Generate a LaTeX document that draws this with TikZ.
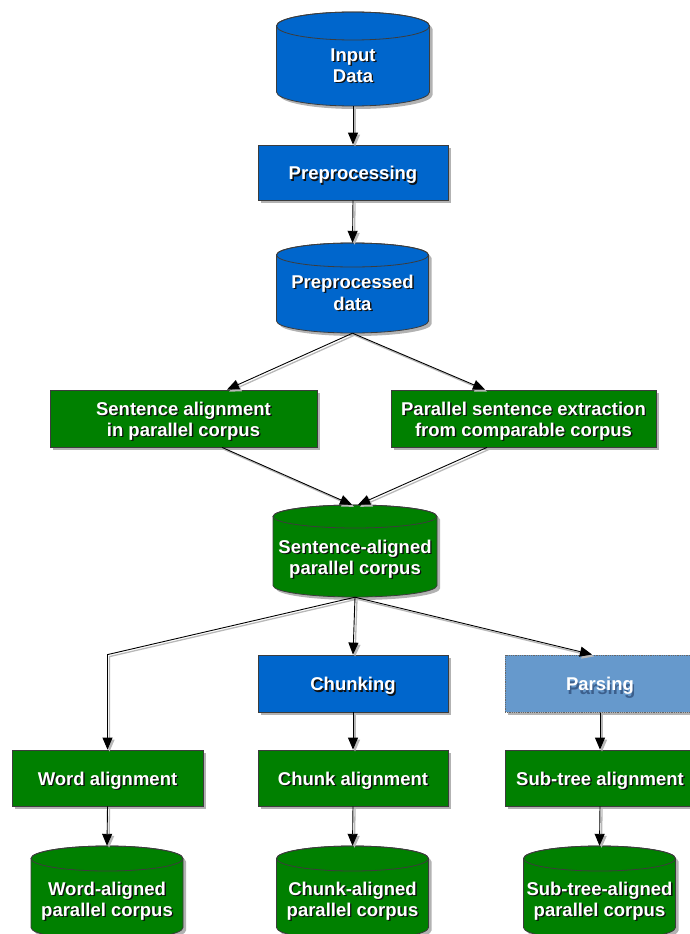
\documentclass[tikz,border=0pt]{standalone}
\usepackage{fontspec}
\setmainfont{Liberation Sans}
\usetikzlibrary{shadows,arrows.meta,calc}
\definecolor{blueF}{RGB}{0,102,204}
\definecolor{greenF}{RGB}{0,128,0}
\definecolor{parsF}{RGB}{102,153,204}
\definecolor{parsSh}{RGB}{60,95,140}
\definecolor{tshadow}{RGB}{15,15,15}
\definecolor{borderC}{RGB}{60,60,60}
\newcommand\shtext[2][3pt]{%
  \setbox0=\hbox{\begin{tabular}{@{}c@{}}#2\end{tabular}}%
  \raisebox{-#1}[\ht0][\dp0]{\rlap{\kern1.4pt\raisebox{-1.4pt}{\color{tshadow}\copy0}}\copy0}}
\newcommand\shtextp[2][3pt]{%
  \setbox0=\hbox{\begin{tabular}{@{}c@{}}#2\end{tabular}}%
  \raisebox{-#1}[\ht0][\dp0]{\rlap{\kern1.5pt\raisebox{-4pt}{\color{parsSh}\copy0}}\copy0}}
\newcommand\conn[1]{\draw[edgesh] #1; \draw[edge] #1;}
% name, cx, cy, half width, half height, cap radius, colour, text
\newcommand\cylnode[8]{%
  \fill[black, opacity=0.3, shift={(3,3)}]
    ({#2-#4},{#3-#5+#6}) -- ({#2-#4},{#3+#5-#6})
    arc[start angle=180, end angle=360, x radius=#4pt, y radius=#6pt]
    -- ({#2+#4},{#3-#5+#6})
    arc[start angle=0, end angle=180, x radius=#4pt, y radius=#6pt] -- cycle;
  \filldraw[fill=#7, draw=borderC, line width=0.8pt]
    ({#2-#4},{#3-#5+#6}) -- ({#2-#4},{#3+#5-#6})
    arc[start angle=180, end angle=360, x radius=#4pt, y radius=#6pt]
    -- ({#2+#4},{#3-#5+#6})
    arc[start angle=0, end angle=180, x radius=#4pt, y radius=#6pt] -- cycle;
  \draw[borderC, line width=0.8pt] ({#2},{#3-#5+#6}) ellipse [x radius=#4pt, y radius=#6pt];
  \node[txt, rectangle, inner sep=0pt, minimum width={2*#4pt}, minimum height={2*#5pt}]
    (#1) at (#2,#3) {#8};
}
\begin{document}
\begin{tikzpicture}[x=1pt,y=-1pt,
  txt/.style={text=white, font=\fontsize{18.5}{21.5}\selectfont\bfseries},
  shad/.style={drop shadow={shadow xshift=3pt, shadow yshift=-3pt, opacity=0.3, fill=black}},
  box/.style={txt, shad, rectangle, draw=borderC, line width=0.8pt, fill=#1,
              minimum width=190pt, minimum height=56pt, inner sep=0pt},
  edge/.style={draw=black, line width=0.9pt, -{Triangle[length=12pt,width=10pt]}},
  edgesh/.style={draw=black!28, line width=1.3pt, -{Triangle[length=12pt,width=10pt]},
                 transform canvas={xshift=2pt,yshift=-2pt}},
]
\useasboundingbox (0,0) rectangle (689,934);

\cylnode{in}{353}{59}{76.5}{47}{14}{blueF}{\shtext[8.5pt]{Input\\Data}}
\node[box=blueF, minimum height=55pt] (pre) at (353,172.5) {\shtext{Preprocessing}};
\cylnode{ppd}{352.5}{288}{76}{45}{12}{blueF}{\shtext[7pt]{Preprocessed\\data}}
\node[box=greenF, minimum width=267pt, minimum height=57pt] (sa) at (183.5,418.5) {\shtext{Sentence alignment\\in parallel corpus}};
\node[box=greenF, minimum width=265pt, minimum height=57pt] (pe) at (523.5,418.5) {\shtext{Parallel sentence extraction\\from comparable corpus}};
\cylnode{sac}{355}{551}{82}{46}{11.5}{greenF}{\shtext[8.5pt]{Sentence-aligned\\parallel corpus}}

\node[box=blueF, minimum height=57pt] (ch) at (353,683.5) {\shtext{Chunking}};
\node[box=parsF, draw=black!60, densely dotted, line width=1pt, minimum height=57pt] (pa) at (600,683.5) {\shtextp{Parsing}};

\node[box=greenF, minimum width=191pt] (wa) at (107.5,778) {\shtext{Word alignment}};
\node[box=greenF] (ca) at (353,778) {\shtext{Chunk alignment}};
\node[box=greenF] (sta) at (600,778) {\shtext{Sub-tree alignment}};

\cylnode{wac}{107}{893}{76}{47}{12.5}{greenF}{\shtext[8.5pt]{Word-aligned\\parallel corpus}}
\cylnode{cac}{352.5}{893}{76}{47}{12.5}{greenF}{\shtext[8.5pt]{Chunk-aligned\\parallel corpus}}
\cylnode{stac}{599.5}{893}{76}{47}{12.5}{greenF}{\shtext[8.5pt]{Sub-tree-aligned\\parallel corpus}}

\conn{(in.south) -- (pre.north)}
\conn{(pre.south) -- (ppd.north)}
\conn{(ppd.south) -- ([xshift=43.5pt]sa.north)}
\conn{(ppd.south) -- ([xshift=-38.5pt]pe.north)}
\conn{([xshift=38.5pt]sa.south) -- ([xshift=-3pt]sac.north)}
\conn{([xshift=-36.5pt]pe.south) -- ([xshift=3pt]sac.north)}
\conn{(sac.south) -- (wa.north |- ch.north) -- (wa.north)}
\conn{(sac.south) -- (ch.north)}
\conn{(sac.south) -- ([xshift=-8pt]pa.north)}
\conn{(wa.south) -- (wac.north)}
\conn{(ch.south) -- (ca.north)}
\conn{(ca.south) -- (cac.north)}
\conn{(pa.south) -- (sta.north)}
\conn{(sta.south) -- (stac.north)}
\end{tikzpicture}
\end{document}
